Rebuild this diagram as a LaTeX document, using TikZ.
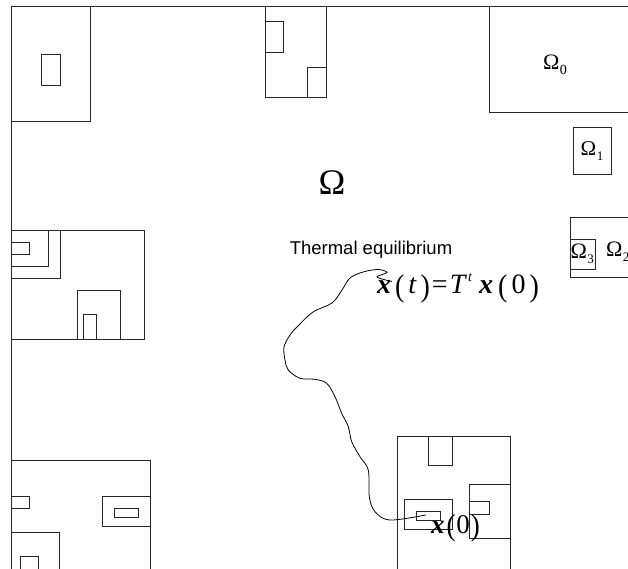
\documentclass[tikz,border=0pt]{standalone}
\usepackage{fontspec}
\setmainfont{Liberation Serif}
\newfontfamily\sansfnt{Liberation Sans}
\newcommand{\OmSub}[3]{{\fontsize{#1}{#1}\selectfont\symbol{"03A9}\kern0.5pt\raisebox{-0.22em}{\fontsize{#2}{#2}\selectfont #3}}}
\newcommand{\bigparL}{\raisebox{-0.08em}{\scalebox{1}[1.12]{(}}}
\newcommand{\bigparR}{\raisebox{-0.08em}{\scalebox{1}[1.12]{)}}}
\begin{document}
\begin{tikzpicture}[x=1pt,y=-1pt,
  ln/.style={draw=black!85, line width=0.8pt},
  lbl/.style={inner sep=0pt, outer sep=0pt}]
\useasboundingbox (0,0) rectangle (628,568);
% outer frame (top and left)
\draw[ln] (11,580) -- (11,6) -- (640,6);
% top-left box
\draw[ln] (11,6) rectangle (90,121);
\draw[ln] (41,54) rectangle (60,85);
% top-middle box
\draw[ln] (265,6) rectangle (326,97);
\draw[ln] (265,21) rectangle (283,52);
\draw[ln] (307.7,67) rectangle (326,97);
% Omega_0 box
\draw[ln] (489,6) rectangle (640,112);
\node[lbl] (om0) at (555,65) {\OmSub{22}{14}{0}};
% Omega_1 box
\draw[ln] (573,127) rectangle (611,174);
\node[lbl] (om1) at (592,151) {\OmSub{21}{13}{1}};
% right box with Omega_3 and Omega_2
\draw[ln] (570,217) rectangle (640,277);
\draw[ln] (570,239) rectangle (595,269);
\node[lbl, anchor=west] (om3) at (570.5,254) {\OmSub{22}{13}{3}};
\node[lbl, anchor=west] (om2) at (606,252) {\OmSub{22}{13}{2}};
% big Omega
\node[lbl] (om) at (332,183) {\fontsize{36}{36}\selectfont\symbol{"03A9}};
% left middle box
\draw[ln] (11,230) rectangle (144,339);
\draw[ln] (11,230) rectangle (60,278);
\draw[ln] (11,230) rectangle (48,266);
\draw[ln] (11,242) rectangle (29,254);
\draw[ln] (77.7,290) rectangle (120,339);
\draw[ln] (83.7,314.7) rectangle (96.3,339);
% bottom-left box
\draw[ln] (11,460) rectangle (150,580);
\draw[ln] (11,496) rectangle (29,508);
\draw[ln] (102,496) rectangle (150,526);
\draw[ln] (114,508) rectangle (138.7,517);
\draw[ln] (11,532) rectangle (59.7,580);
\draw[ln] (20.3,556.7) rectangle (38.7,580);
% bottom-right box
\draw[ln] (397.3,436) rectangle (510,580);
\draw[ln] (428.3,436) rectangle (452.7,465.7);
\draw[ln] (404.3,499) rectangle (452.7,529);
\draw[ln] (416.3,511) rectangle (440.3,520);
\draw[ln] (469.7,484.3) rectangle (510,538.3);
\draw[ln] (469.7,501.7) rectangle (489.3,514);
\coordinate (start) at (425.7,515);
% labels
\node[lbl] (therm) at (371,250) {\sansfnt\fontsize{18.5}{18.5}\selectfont Thermal equilibrium};
\node[lbl, anchor=west] (xt) at (377,288) {\fontsize{28}{28}\selectfont\textbf{\textit{x}}\kern4pt\bigparL\kern4pt\textit{t}\kern4pt\bigparR\kern2pt=\kern2pt\textit{T}\kern1pt\raisebox{0.45em}{\fontsize{14}{14}\selectfont\textit{t}}\kern7pt\textbf{\textit{x}}\kern5pt\bigparL\kern4pt0\kern4pt\bigparR};
\node[lbl, anchor=west] (x0) at (431,528) {\fontsize{27}{27}\selectfont\textbf{\textit{x}}\kern2pt\bigparL\kern1pt0\kern1pt\bigparR};
\coordinate (tail) at (392,281.5);
% trajectory
\draw[black, line width=0.8pt] plot[smooth, tension=0.55] coordinates {
 (start) (390,520) (375,511.7) (369.3,496.7) (368.3,470) (360,456.7)
 (351.7,441.7) (348.3,426.7) (341.7,413.3) (335,396.7) (326.7,383.3)
 (315,379.3) (300,378.3) (288.3,370) (285,360) (284,347) (290,335)
 (297,327) (313,312) (332,303) (342,290) (350,278) (363,272)
 (378,269.5) (387,272.5) (377,277) (tail)};
\end{tikzpicture}
\end{document}
